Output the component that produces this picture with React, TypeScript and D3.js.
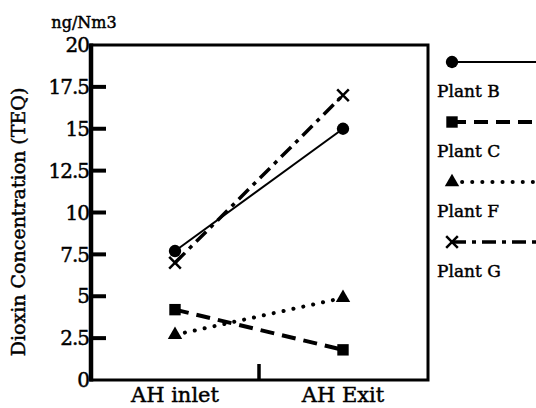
import React, { useEffect, useRef } from 'react';
import * as d3 from 'd3';

// data
const stages = ['AH inlet', 'AH Exit'];
const plants = ['Plant B', 'Plant C', 'Plant F', 'Plant G'];
const plantB = [7.7, 15.0];
const plantC = [4.2, 1.8];
const plantF = [2.7, 4.9];
const plantG = [7.0, 17.0];
const yTicks = [0, 2.5, 5, 7.5, 10, 12.5, 15, 17.5, 20];

const FONT = '"DejaVu Serif", serif';

export default function App() {
  const ref = useRef<SVGSVGElement>(null);

  useEffect(() => {
    const svg = d3.select(ref.current);
    svg.selectAll('*').remove();

    const width = 536;
    const height = 408;
    const left = 91, right = 428, top = 45, bottom = 380;

    const y = d3.scaleLinear().domain([0, 20]).range([bottom, top]);
    const x = d3.scalePoint<string>().domain(stages).range([175, 343]);

    const series = [plantB, plantC, plantF, plantG];
    // line style per plant
    const styles = [
      { w: 2, dash: null as string | null, sym: d3.symbolCircle, size: 120 },
      { w: 4, dash: '14,8', sym: d3.symbolSquare, size: 130 },
      { w: 4, dash: '0.1,10', sym: d3.symbolTriangle, size: 90 },
      { w: 3.5, dash: '14,6,4,6', sym: d3.symbolTimes, size: 90 },
    ];

    // slightly heavier text like the scanned original
    const txt = (sel: any, size: number) => sel
      .style('font-family', FONT).style('font-size', size + 'px')
      .attr('fill', '#000').attr('stroke', '#000').attr('stroke-width', 0.45);

    // frame
    svg.append('rect')
      .attr('x', left).attr('y', top)
      .attr('width', right - left).attr('height', bottom - top)
      .attr('fill', 'none').attr('stroke', '#000').attr('stroke-width', 3);
    svg.append('line')
      .attr('x1', left).attr('x2', left).attr('y1', top - 1.5).attr('y2', bottom + 1.5)
      .attr('stroke', '#000').attr('stroke-width', 4.5);

    // y ticks inward
    svg.append('g').selectAll('line')
      .data(yTicks.filter(t => t > 0 && t < 20))
      .enter().append('line')
      .attr('x1', left).attr('x2', left + 15)
      .attr('y1', d => y(d)).attr('y2', d => y(d))
      .attr('stroke', '#000').attr('stroke-width', 4);

    txt(svg.append('g').selectAll('text')
      .data(yTicks)
      .enter().append('text')
      .attr('x', left - 2).attr('y', d => y(d))
      .attr('dy', '0.36em')
      .attr('text-anchor', 'end')
      .style('letter-spacing', '-1px')
      .text(d => String(d)), 20);

    // middle x tick
    const mid = ((x(stages[0]) as number) + (x(stages[1]) as number)) / 2;
    svg.append('line')
      .attr('x1', mid).attr('x2', mid).attr('y1', bottom).attr('y2', bottom - 16)
      .attr('stroke', '#000').attr('stroke-width', 3.5);

    txt(svg.append('g').selectAll('text')
      .data(stages)
      .enter().append('text')
      .attr('x', d => x(d) as number).attr('y', 402)
      .attr('text-anchor', 'middle')
      .text(d => d), 21);

    // unit and axis title
    txt(svg.append('text')
      .attr('x', 84).attr('y', 28).attr('text-anchor', 'middle')
      .text('ng/Nm3'), 16);
    txt(svg.append('text')
      .attr('transform', 'translate(25,222) rotate(-90)')
      .attr('text-anchor', 'middle')
      .text('Dioxin Concentration (TEQ)'), 19);

    const line = d3.line<number>()
      .x((d, i) => x(stages[i]) as number)
      .y(d => y(d));

    series.forEach((vals, k) => {
      const st = styles[k];
      svg.append('path')
        .attr('d', line(vals))
        .attr('fill', 'none').attr('stroke', '#000')
        .attr('stroke-width', st.w)
        .attr('stroke-linecap', k === 2 ? 'round' : 'butt')
        .attr('stroke-dasharray', st.dash);
      const sym = d3.symbol().type(st.sym).size(st.size);
      svg.append('g').selectAll('path')
        .data(vals).enter().append('path')
        .attr('transform', (d, i) => 'translate(' + x(stages[i]) + ',' + y(d) + ')')
        .attr('d', sym() as string)
        .attr('fill', k === 3 ? 'none' : '#000')
        .attr('stroke', '#000')
        .attr('stroke-width', k === 3 ? 2.5 : 0);
    });

    // legend
    const lg = svg.append('g');
    plants.forEach((name, k) => {
      const st = styles[k];
      const ly = 62 + k * 60;
      lg.append('line')
        .attr('x1', 452).attr('x2', width + 10).attr('y1', ly).attr('y2', ly)
        .attr('stroke', '#000').attr('stroke-width', st.w)
        .attr('stroke-linecap', k === 2 ? 'round' : 'butt')
        .attr('stroke-dasharray', st.dash);
      lg.append('path')
        .attr('transform', 'translate(452,' + ly + ')')
        .attr('d', d3.symbol().type(st.sym).size(st.size)() as string)
        .attr('fill', k === 3 ? 'none' : '#000')
        .attr('stroke', '#000')
        .attr('stroke-width', k === 3 ? 2.5 : 0);
      txt(lg.append('text')
        .attr('x', 437).attr('y', ly + 35)
        .text(name), 17);
    });

    svg.attr('width', width).attr('height', height);
  }, []);

  return (
    <svg ref={ref} width={536} height={408}
      style={{ position: 'absolute', left: 0, top: 0, background: '#fff' }} />
  );
}
